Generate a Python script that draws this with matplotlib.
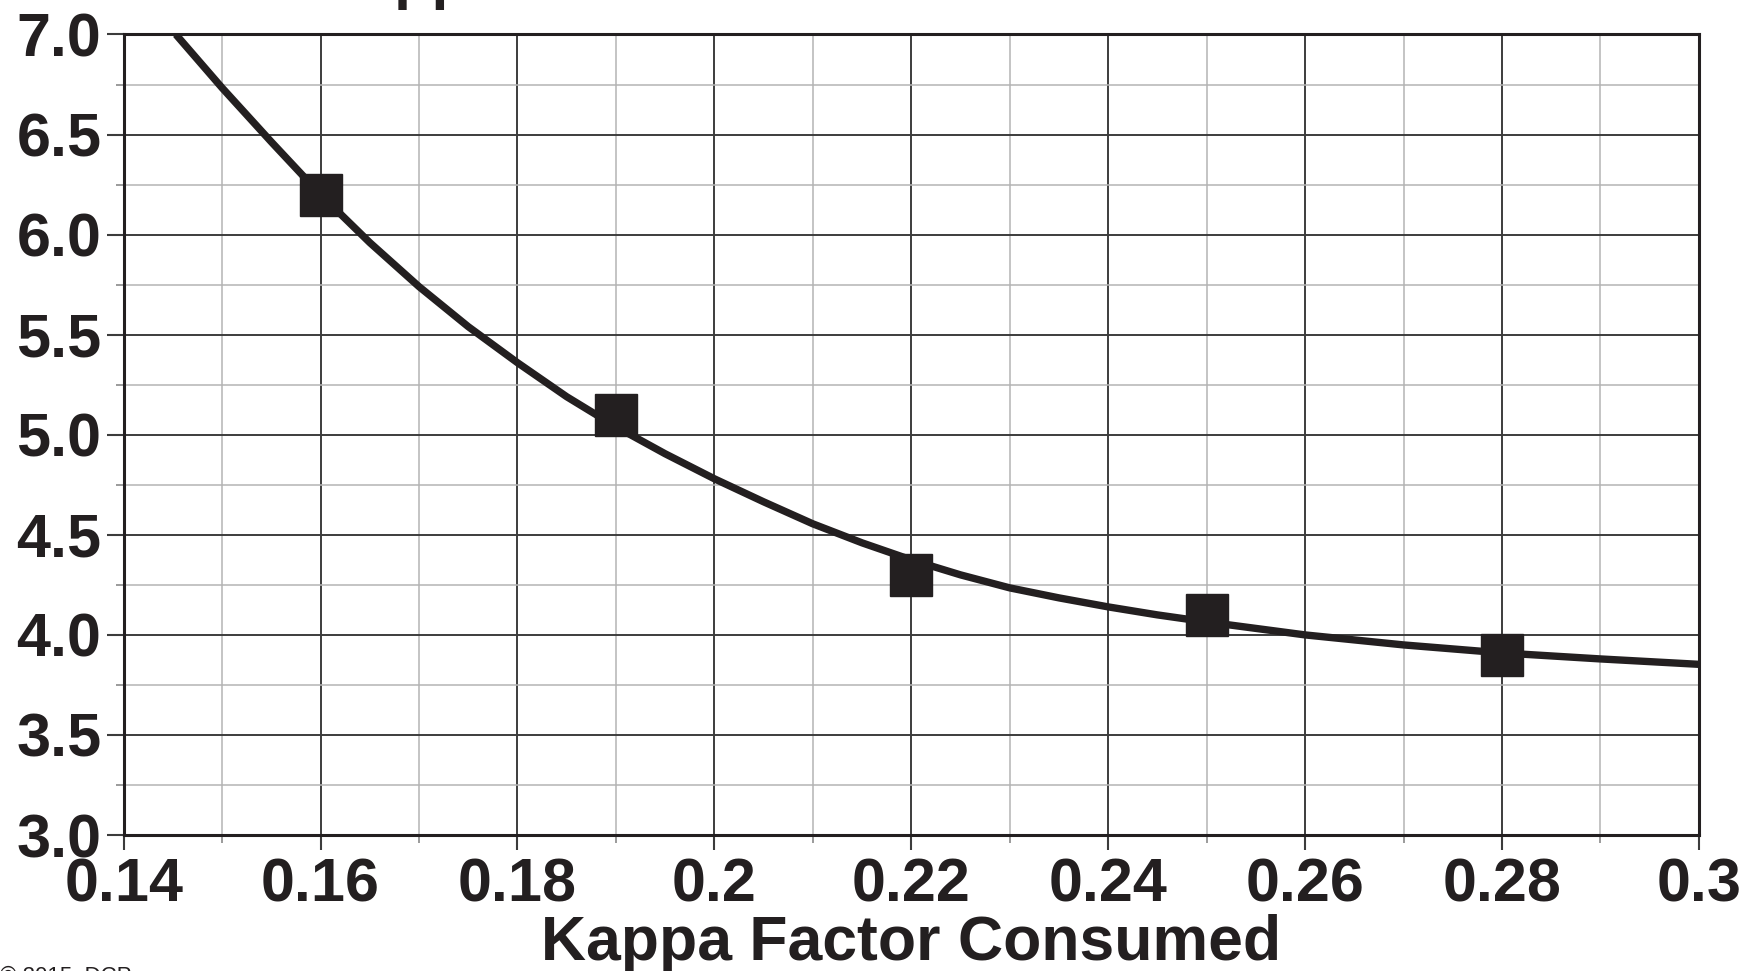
import matplotlib
matplotlib.use("Agg")
import matplotlib.pyplot as plt
from matplotlib.ticker import MultipleLocator, FixedFormatter, FixedLocator

# Measured points (squares)
kappa_points = [0.16, 0.19, 0.22, 0.25, 0.28]
value_points = [6.2, 5.1, 4.3, 4.1, 3.9]

# Trend curve
kappa_curve = [0.1453, 0.15, 0.155, 0.16, 0.165, 0.17, 0.175, 0.18, 0.185,
               0.19, 0.195, 0.20, 0.205, 0.21, 0.215, 0.22, 0.225, 0.23, 0.235,
               0.24, 0.245, 0.25, 0.26, 0.27, 0.28, 0.29, 0.30]
value_curve = [7.0, 6.733, 6.463, 6.2, 5.96, 5.74, 5.54, 5.36, 5.19,
               5.04, 4.905, 4.78, 4.665, 4.555, 4.46, 4.375, 4.30, 4.235, 4.185,
               4.14, 4.10, 4.065, 4.0, 3.95, 3.91, 3.88, 3.853]

x_ticks = [0.14, 0.16, 0.18, 0.20, 0.22, 0.24, 0.26, 0.28, 0.30]
x_tick_labels = ["0.14", "0.16", "0.18", "0.2", "0.22", "0.24", "0.26", "0.28", "0.3"]
y_ticks = [3.0, 3.5, 4.0, 4.5, 5.0, 5.5, 6.0, 6.5, 7.0]
y_tick_labels = ["3.0", "3.5", "4.0", "4.5", "5.0", "5.5", "6.0", "6.5", "7.0"]

INK = "#231f20"
FONT = "Liberation Sans"

fig = plt.figure(figsize=(17.62, 9.71), dpi=100)
ax = fig.add_axes([0.0702, 0.140, 0.894, 0.8245])

ax.set_xlim(0.14, 0.30)
ax.set_ylim(3.0, 7.0)

ax.xaxis.set_major_locator(FixedLocator(x_ticks))
ax.xaxis.set_major_formatter(FixedFormatter(x_tick_labels))
ax.yaxis.set_major_locator(FixedLocator(y_ticks))
ax.yaxis.set_major_formatter(FixedFormatter(y_tick_labels))
ax.xaxis.set_minor_locator(MultipleLocator(0.01))
ax.yaxis.set_minor_locator(MultipleLocator(0.25))

ax.grid(which="major", color="#3c3c3c", linewidth=1.4)
ax.grid(which="minor", color="#b4b4b4", linewidth=1.1)
ax.set_axisbelow(True)

for side in ax.spines.values():
    side.set_color(INK)
    side.set_linewidth(2.2)

ax.tick_params(which="major", direction="out", length=11, width=1.5, color="#3c3c3c", pad=5)
ax.tick_params(which="minor", direction="out", length=5.5, width=1.2, color="#8a8a8a")
ax.tick_params(axis="y", which="major", length=12, pad=4)

for lbl in ax.get_xticklabels() + ax.get_yticklabels():
    lbl.set_fontfamily(FONT)
    lbl.set_fontweight("bold")
    lbl.set_fontsize(44)
    lbl.set_color(INK)

ax.plot(kappa_curve, value_curve, color=INK, linewidth=5.3, solid_capstyle="butt",
        solid_joinstyle="round", zorder=3)
ax.plot(kappa_points, value_points, linestyle="none", marker="s", markersize=30,
        color=INK, zorder=4)

ax.set_xlabel("Kappa Factor Consumed", fontfamily=FONT, fontweight="bold",
              fontsize=45, color=INK, labelpad=0)

# title above the canvas, only the descenders show
fig.text(350 / 1762, 1.0 + 3.5 / 971, "Applied", fontfamily=FONT, fontweight="bold",
         fontsize=44, color=INK, ha="left", va="baseline")
fig.text(0.0, -0.011, "\u00a9 2015, DCP", fontfamily=FONT, fontsize=16,
         color=INK, ha="left", va="baseline")

fig.savefig("out.png", dpi=100)
